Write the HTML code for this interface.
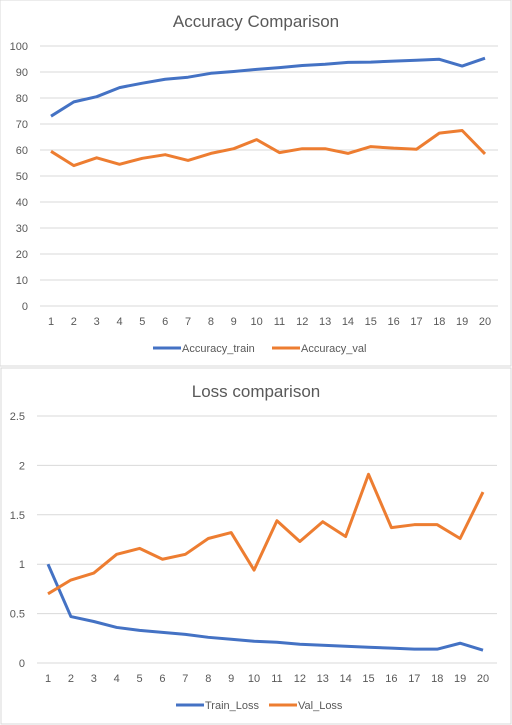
<!DOCTYPE html>
<html><head><meta charset="utf-8"><style>
body{margin:0;width:512px;height:725px;background:#fff;overflow:hidden;font-family:"Liberation Sans",sans-serif}
svg{position:absolute;left:0;top:0}
</style></head><body>
<svg id="s" width="512" height="725">
<rect x="0" y="0" width="511" height="366" fill="#fff" stroke="#d9d9d9"/>
<rect x="1" y="368" width="510" height="356" fill="#fff" stroke="#d9d9d9"/>
<text x="256" y="27" text-anchor="middle" font-size="17" fill="#595959">Accuracy Comparison</text>
<text x="256" y="397" text-anchor="middle" font-size="17" fill="#595959">Loss  comparison</text>
</svg>
<script>
const cats=[1,2,3,4,5,6,7,8,9,10,11,12,13,14,15,16,17,18,19,20];
const accTrain=[73,78.5,80.5,84,85.7,87.2,88,89.5,90.2,91,91.7,92.5,93,93.7,93.8,94.2,94.5,94.9,92.3,95.3];
const accVal=[59.5,54,57,54.5,56.8,58.2,56,58.7,60.5,64,59,60.5,60.5,58.7,61.3,60.7,60.3,66.5,67.5,58.5];
const accTicks=[0,10,20,30,40,50,60,70,80,90,100];
const lossTrain=[1.0,0.47,0.42,0.36,0.33,0.31,0.29,0.26,0.24,0.22,0.21,0.19,0.18,0.17,0.16,0.15,0.14,0.14,0.2,0.13];
const lossVal=[0.7,0.84,0.91,1.1,1.16,1.05,1.1,1.26,1.32,0.94,1.44,1.23,1.43,1.28,1.91,1.37,1.4,1.4,1.26,1.73];
const lossTicks=[0,0.5,1,1.5,2,2.5];
const lossTickLabels=["0","0.5","1","1.5","2","2.5"];
const svg=document.getElementById('s');const NS='http://www.w3.org/2000/svg';
function mk(t,a,txt){const e=document.createElementNS(NS,t);for(const k in a)e.setAttribute(k,a[k]);if(txt!=null)e.textContent=txt;svg.appendChild(e);return e;}
function chart(c){
 const xs=i=>c.x1+(c.x20-c.x1)*i/(cats.length-1);
 const ys=v=>c.y0-(c.y0-c.yTop)*v/c.max;
 c.ticks.forEach((t,i)=>{
  const g=mk('line',{x1:c.gx0,x2:c.gx1,y1:ys(t),y2:ys(t),stroke:'#d9d9d9','stroke-width':1});
  
  
  const l=mk('text',{x:c.lx,y:ys(t)+4,'text-anchor':'end','font-size':11,fill:'#595959'},c.labels[i]);
  
  
 });
 cats.forEach((cv,i)=>{
  const l=mk('text',{x:xs(i),y:c.y0+19,'text-anchor':'middle','font-size':11,fill:'#595959'},cv);
  
  
 });
 c.series.forEach(s=>{
  const p=mk('polyline',{points:s.v.map((v,i)=>xs(i)+','+ys(v)).join(' '),fill:'none',stroke:s.col,'stroke-width':3,'stroke-linejoin':'round'});
  
  
  const lg=mk('line',{x1:s.lx,x2:s.lx+28,y1:c.ly,y2:c.ly,stroke:s.col,'stroke-width':3});
  
  
  const lt=mk('text',{x:s.lx+29,y:c.ly+4,'font-size':11,fill:'#595959'},s.label);
  
  
 });
}
chart({p:'accuracy',x1:51,x20:485,y0:306,yTop:46,max:100,gx0:40,gx1:498,lx:28,ticks:accTicks,labels:accTicks.map(String),ly:348,
 series:[{v:accTrain,col:'#4472c4',name:'accuracy-train',label:'Accuracy_train',lx:153},{v:accVal,col:'#ed7d31',name:'accuracy-val',label:'Accuracy_val',lx:272}]});
chart({p:'loss',x1:48,x20:483,y0:663,yTop:416,max:2.5,gx0:37,gx1:497,lx:25,ticks:lossTicks,labels:lossTickLabels,ly:705,
 series:[{v:lossTrain,col:'#4472c4',name:'train-loss',label:'Train_Loss',lx:176},{v:lossVal,col:'#ed7d31',name:'val-loss',label:'Val_Loss',lx:269}]});
</script>
</body></html>
